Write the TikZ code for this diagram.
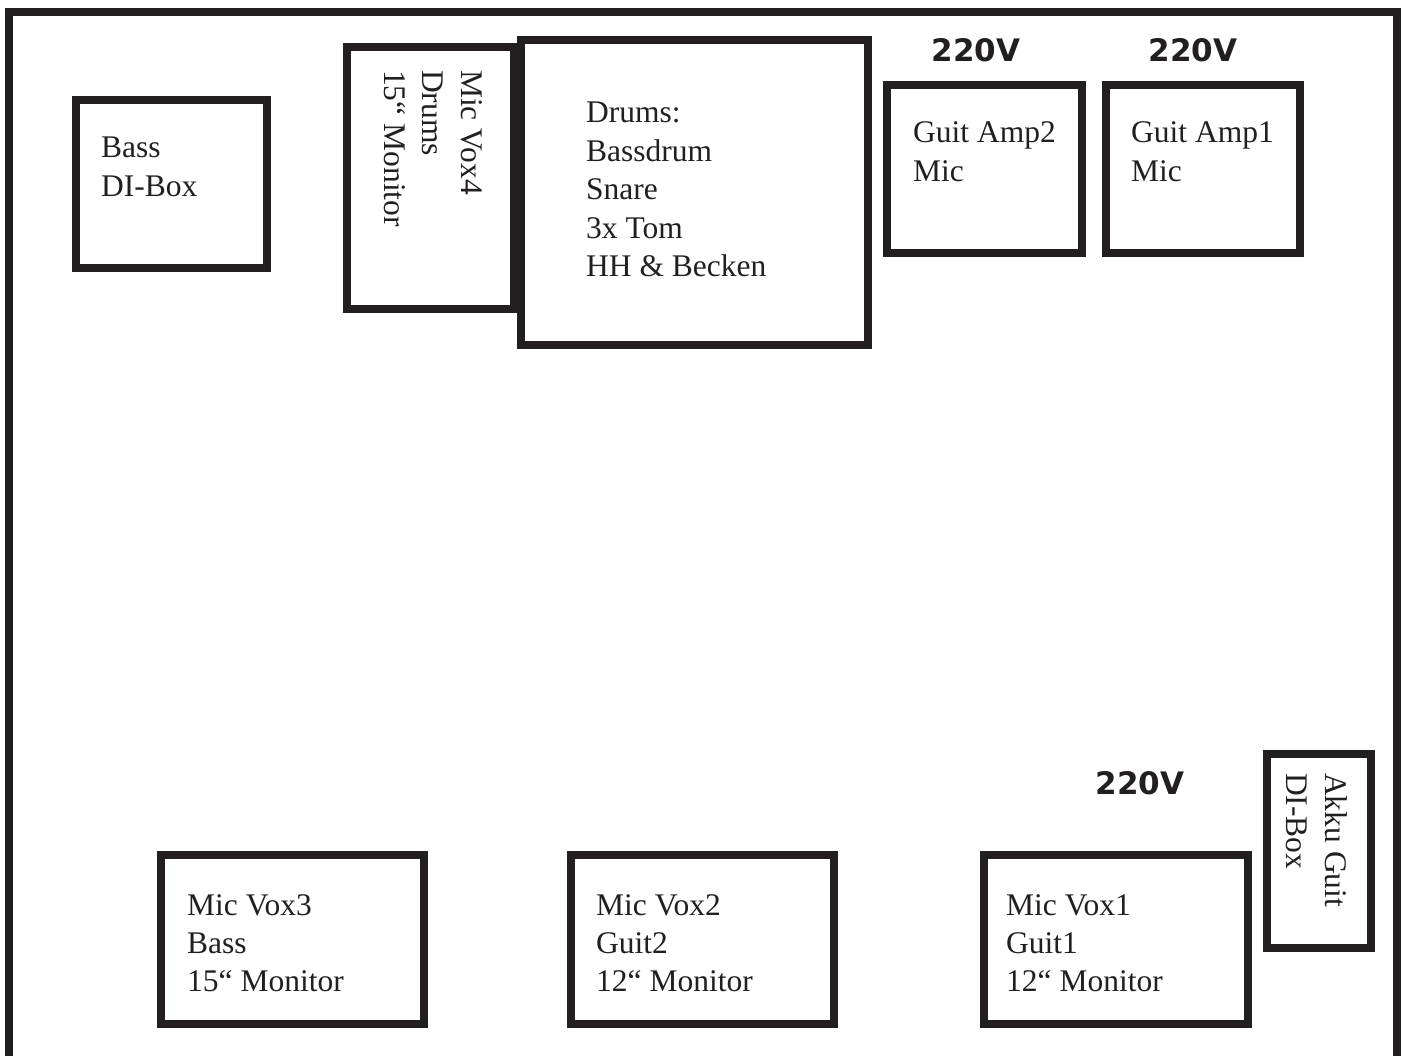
\documentclass[tikz,border=0pt]{standalone}
\usepackage{fontspec}
\setmainfont{Liberation Serif}
\newfontfamily\voltfont{DejaVu Sans}
\begin{document}
\begin{tikzpicture}[x=1pt,y=-1pt,
    stagebox/.style={shape=rectangle,draw=stage_black,line width=8pt,inner sep=0pt},
    stagetext/.style={anchor=base west,align=left,inner sep=0pt,text=stage_black,font=\fontsize{31.5}{38.4}\selectfont},
    voltlabel/.style={inner sep=0pt,text=stage_black,font=\voltfont\bfseries\fontsize{31}{36}\selectfont}]
    \definecolor{stage_black}{RGB}{35,31,32}
    \useasboundingbox (0,0) rectangle (1403,1056);
    \clip (0,0) rectangle (1403,1056);
    % stage frame, open at the front
    \draw[draw=stage_black,line width=8pt,line join=miter] (9,1070) -- (9,12) -- (1397,12) -- (1397,1070);
    % back line
    \node[stagebox,minimum width=191pt,minimum height=168pt] (bassdi) at (171.5,184) {};
    \node[stagebox,minimum width=167pt,minimum height=262pt] (vox4) at (430.5,178) {};
    \node[stagebox,minimum width=347pt,minimum height=305pt] (drums) at (694.5,192.5) {};
    \node[stagebox,minimum width=195pt,minimum height=168pt] (amp2) at (984.5,169) {};
    \node[stagebox,minimum width=194pt,minimum height=168pt] (amp1) at (1203,169) {};
    % front line
    \node[stagebox,minimum width=104pt,minimum height=194pt] (akku) at (1319,851) {};
    \node[stagebox,minimum width=263pt,minimum height=169pt] (vox3) at (292.5,939.5) {};
    \node[stagebox,minimum width=263pt,minimum height=169pt] (vox2) at (702.5,939.5) {};
    \node[stagebox,minimum width=264pt,minimum height=169pt] (vox1) at (1116,939.5) {};
    % texts (anchored at the baseline of the last line)
    \node[stagetext] (bassdi_txt) at (101,196.4) {Bass\\DI-Box};
    \node[stagetext,rotate=-90] (vox4_txt) at (384.2,70) {Mic Vox4\\Drums\\15“ Monitor};
    \node[stagetext] (drums_txt) at (586,276.6) {Drums:\\Bassdrum\\Snare\\3x Tom\\HH \& Becken};
    \node[stagetext] (amp2_txt) at (913,181.4) {Guit Amp2\\Mic};
    \node[stagetext] (amp1_txt) at (1131,181.4) {Guit Amp1\\Mic};
    \node[stagetext,rotate=-90] (akku_txt) at (1286.6,773) {Akku Guit\\DI-Box};
    \node[stagetext] (vox3_txt) at (187,991.8) {Mic Vox3\\Bass\\15“ Monitor};
    \node[stagetext] (vox2_txt) at (596,991.8) {Mic Vox2\\Guit2\\12“ Monitor};
    \node[stagetext] (vox1_txt) at (1006,991.8) {Mic Vox1\\Guit1\\12“ Monitor};
    % power
    \node[voltlabel] (pwr_amp2) at (976,50) {220V};
    \node[voltlabel] (pwr_amp1) at (1193,50) {220V};
    \node[voltlabel] (pwr_vox1) at (1140,783) {220V};
\end{tikzpicture}
\end{document}
